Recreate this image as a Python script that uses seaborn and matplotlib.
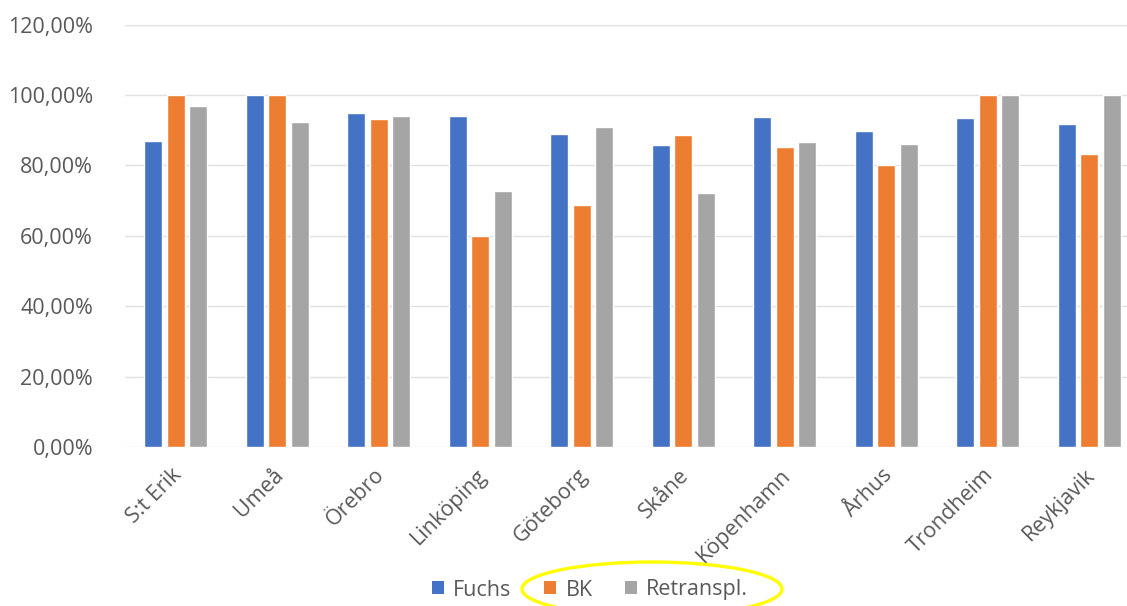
import matplotlib
matplotlib.use("Agg")
import matplotlib.pyplot as plt
import matplotlib.transforms as mtransforms
from matplotlib.patches import Patch, Ellipse
from matplotlib.ticker import FuncFormatter
import seaborn as sns
import pandas as pd

# ---- data ----
centers = ["S:t Erik", "Umeå", "Örebro", "Linköping", "Göteborg",
           "Skåne", "Köpenhamn", "Århus", "Trondheim", "Reykjavik"]
fuchs = [87.0, 100.0, 94.8, 93.9, 89.0, 85.7, 93.7, 89.7, 93.5, 91.7]
bk = [100.0, 100.0, 93.2, 60.0, 68.8, 88.7, 85.2, 80.0, 100.0, 83.2]
retranspl = [96.9, 92.4, 93.9, 72.8, 90.9, 72.3, 86.7, 86.2, 100.0, 100.0]
series_names = ["Fuchs", "BK", "Retranspl."]
y_ticks = [0, 20, 40, 60, 80, 100, 120]

colors = ["#4472C4", "#ED7D31", "#A5A5A5"]
text_color = "#595959"
grid_color = "#E0E0E0"

rows = []
for name, vals in zip(series_names, [fuchs, bk, retranspl]):
    for c, v in zip(centers, vals):
        rows.append({"center": c, "series": name, "value": v})
df = pd.DataFrame(rows)

sns.set_theme(style="white")
plt.rcParams["font.family"] = ["Open Sans", "DejaVu Sans"]

W, H = 1127, 606
fig = plt.figure(figsize=(W / 100, H / 100), dpi=100)
ax = fig.add_axes([125 / W, 1 - 447 / H, 1015 / W, 422.4 / H])

sns.barplot(data=df, x="center", y="value", hue="series", order=centers,
            hue_order=series_names, palette=colors, saturation=1,
            width=0.665, gap=0.2, errorbar=None, legend=False, ax=ax)

ax.set_xlim(-0.5, len(centers) - 0.5)
ax.set_ylim(0, 120)
ax.set_yticks(y_ticks)
ax.yaxis.set_major_formatter(FuncFormatter(lambda v, p: f"{v:.2f}".replace(".", ",") + "%"))
ax.set_axisbelow(True)
ax.yaxis.grid(True, color=grid_color, linewidth=1.0)
ax.xaxis.grid(False)
for s in ax.spines.values():
    s.set_visible(False)
ax.set_xlabel("")
ax.set_ylabel("")

fs = 15.5
ax.tick_params(axis="y", length=0, pad=23, labelsize=fs, labelcolor=text_color)
ax.tick_params(axis="x", length=0, pad=18, labelsize=fs, labelcolor=text_color)
ax.set_xticks(range(len(centers)))
ax.set_xticklabels(centers, rotation=45, ha="right", va="center", rotation_mode="anchor")
offset = mtransforms.ScaledTranslation(3 / 100, 0, fig.dpi_scale_trans)
for lbl in ax.get_xticklabels():
    lbl.set_transform(lbl.get_transform() + offset)

handles = [Patch(facecolor=c, edgecolor="none", label=n) for c, n in zip(colors, series_names)]
leg = fig.legend(handles=handles, loc="center", bbox_to_anchor=(590 / W, 1 - 590 / H),
                 ncol=3, frameon=False, fontsize=fs, handlelength=0.55, handleheight=0.55,
                 handletextpad=0.45, columnspacing=1.5)
for t in leg.get_texts():
    t.set_color(text_color)

ell = Ellipse((652 / W, 1 - 589 / H), 260 / W, 54 / H, transform=fig.transFigure,
              fill=False, edgecolor="#FFFF00", linewidth=2.4, clip_on=False)
fig.add_artist(ell)

fig.savefig("out.png", dpi=100)
